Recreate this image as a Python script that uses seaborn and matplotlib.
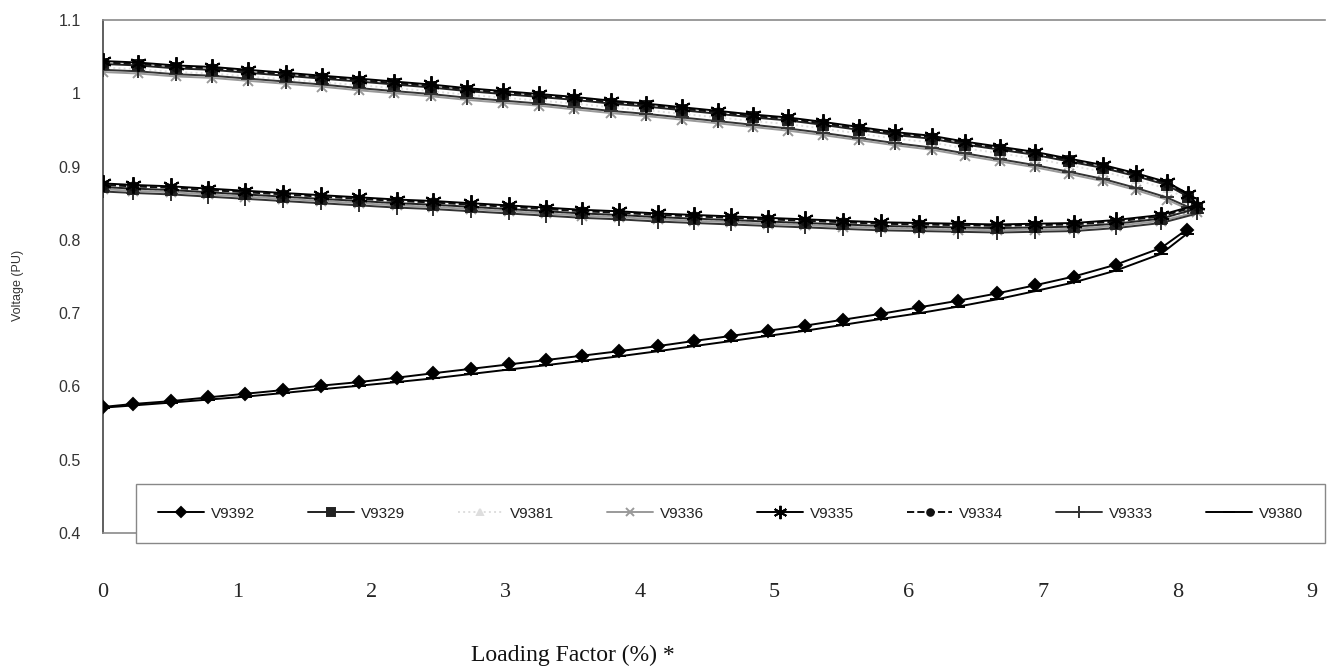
import numpy as np
import matplotlib.pyplot as plt
import seaborn as sns

# loading factor of the points, upper branch (0 -> nose) and lower branch (0 -> nose)
lf_upper = [0.00, 0.26, 0.54, 0.81, 1.08, 1.36, 1.63, 1.91, 2.17, 2.44,
            2.71, 2.98, 3.25, 3.51, 3.78, 4.04, 4.31, 4.58, 4.84, 5.10,
            5.36, 5.63, 5.90, 6.17, 6.42, 6.68, 6.94, 7.19, 7.45, 7.69,
            7.92, 8.08]
lf_nose = 8.15
lf_lower = [0.00, 0.22, 0.51, 0.78, 1.06, 1.34, 1.62, 1.91, 2.19, 2.46,
            2.74, 3.02, 3.30, 3.57, 3.84, 4.13, 4.40, 4.68, 4.95, 5.23,
            5.51, 5.79, 6.08, 6.37, 6.66, 6.94, 7.23, 7.54, 7.88]
lf_tail = 8.07

# voltages (PU), upper branch
v9335_up = [1.044, 1.042, 1.038, 1.036, 1.032, 1.028, 1.024, 1.020, 1.016, 1.012,
            1.007, 1.003, 0.999, 0.995, 0.990, 0.986, 0.981, 0.976, 0.971, 0.967,
            0.961, 0.954, 0.947, 0.942, 0.934, 0.927, 0.920, 0.911, 0.902, 0.891,
            0.879, 0.863]
v9334_up = [1.042, 1.040, 1.036, 1.034, 1.030, 1.026, 1.022, 1.018, 1.014, 1.010,
            1.005, 1.001, 0.997, 0.993, 0.988, 0.984, 0.979, 0.974, 0.969, 0.965,
            0.959, 0.952, 0.945, 0.940, 0.932, 0.925, 0.918, 0.909, 0.900, 0.889,
            0.877, 0.861]
v9329_up = [1.040, 1.038, 1.034, 1.032, 1.028, 1.024, 1.020, 1.016, 1.012, 1.008,
            1.003, 0.999, 0.995, 0.991, 0.986, 0.982, 0.977, 0.972, 0.967, 0.963,
            0.957, 0.950, 0.943, 0.938, 0.930, 0.923, 0.916, 0.907, 0.898, 0.887,
            0.875, 0.859]
v9381_up = [1.035, 1.033, 1.029, 1.027, 1.023, 1.019, 1.015, 1.011, 1.007, 1.003,
            0.998, 0.994, 0.990, 0.986, 0.981, 0.977, 0.972, 0.967, 0.962, 0.958,
            0.952, 0.945, 0.938, 0.933, 0.925, 0.918, 0.911, 0.902, 0.893, 0.882,
            0.870, 0.855]
v9333_up = [1.032, 1.030, 1.026, 1.024, 1.020, 1.016, 1.012, 1.007, 1.003, 0.999,
            0.994, 0.990, 0.986, 0.981, 0.976, 0.972, 0.967, 0.962, 0.957, 0.952,
            0.946, 0.939, 0.932, 0.926, 0.918, 0.910, 0.902, 0.893, 0.883, 0.871,
            0.858, 0.845]
v9336_up = [1.029, 1.027, 1.023, 1.021, 1.017, 1.013, 1.009, 1.004, 1.000, 0.996,
            0.991, 0.987, 0.983, 0.978, 0.973, 0.969, 0.964, 0.959, 0.954, 0.949,
            0.943, 0.936, 0.929, 0.923, 0.915, 0.907, 0.899, 0.890, 0.880, 0.868,
            0.855, 0.842]

# voltage at the nose
nose = {'V9335': 0.848, 'V9334': 0.846, 'V9329': 0.843,
        'V9381': 0.840, 'V9333': 0.836, 'V9336': 0.838}

# voltages (PU), lower branch
v9335_dn = [0.877, 0.875, 0.873, 0.870, 0.867, 0.864, 0.861, 0.858, 0.855, 0.853,
            0.850, 0.847, 0.844, 0.841, 0.839, 0.836, 0.834, 0.832, 0.830, 0.828,
            0.826, 0.824, 0.823, 0.822, 0.821, 0.822, 0.823, 0.827, 0.834]
v9334_dn = [0.875, 0.873, 0.871, 0.868, 0.865, 0.862, 0.859, 0.856, 0.853, 0.851,
            0.848, 0.845, 0.842, 0.839, 0.837, 0.834, 0.832, 0.830, 0.828, 0.826,
            0.824, 0.822, 0.821, 0.820, 0.819, 0.820, 0.821, 0.825, 0.832]
v9329_dn = [0.872, 0.870, 0.868, 0.865, 0.862, 0.859, 0.856, 0.853, 0.850, 0.848,
            0.845, 0.842, 0.839, 0.836, 0.834, 0.831, 0.829, 0.827, 0.825, 0.823,
            0.821, 0.819, 0.818, 0.817, 0.816, 0.817, 0.818, 0.822, 0.829]
v9381_dn = [0.870, 0.868, 0.866, 0.863, 0.860, 0.857, 0.854, 0.851, 0.848, 0.846,
            0.843, 0.840, 0.837, 0.834, 0.832, 0.829, 0.827, 0.825, 0.823, 0.821,
            0.819, 0.817, 0.816, 0.815, 0.814, 0.815, 0.816, 0.820, 0.827]
v9336_dn = [0.869, 0.867, 0.865, 0.862, 0.859, 0.856, 0.853, 0.850, 0.847, 0.845,
            0.842, 0.839, 0.836, 0.833, 0.831, 0.828, 0.826, 0.824, 0.822, 0.820,
            0.818, 0.816, 0.815, 0.814, 0.813, 0.814, 0.815, 0.819, 0.826]
v9333_dn = [0.866, 0.864, 0.862, 0.859, 0.856, 0.853, 0.850, 0.847, 0.844, 0.842,
            0.839, 0.836, 0.833, 0.830, 0.828, 0.825, 0.823, 0.821, 0.819, 0.817,
            0.815, 0.813, 0.812, 0.811, 0.810, 0.811, 0.812, 0.816, 0.823]

# the two low curves (lower branch only + end point)
v9392 = [0.572, 0.576, 0.580, 0.585, 0.590, 0.595, 0.601, 0.606, 0.612, 0.618,
         0.624, 0.630, 0.636, 0.642, 0.648, 0.655, 0.662, 0.669, 0.676, 0.683,
         0.691, 0.699, 0.708, 0.717, 0.727, 0.738, 0.750, 0.766, 0.789, 0.814]
v9380 = [0.571, 0.574, 0.578, 0.582, 0.586, 0.591, 0.596, 0.601, 0.606, 0.611,
         0.617, 0.623, 0.629, 0.635, 0.641, 0.648, 0.655, 0.662, 0.669, 0.676,
         0.684, 0.692, 0.700, 0.709, 0.719, 0.730, 0.742, 0.758, 0.781, 0.808]

series_names = ['V9392', 'V9329', 'V9381', 'V9336', 'V9335', 'V9334', 'V9333', 'V9380']
x_tick_labels = ['0', '1', '2', '3', '4', '5', '6', '7', '8', '9']
y_ticks = [0.4, 0.5, 0.6, 0.7, 0.8, 0.9, 1.0, 1.1]
y_tick_labels = ['0.4', '0.5', '0.6', '0.7', '0.8', '0.9', '1', '1.1']

nose_curves = {
    'V9335': (v9335_up, v9335_dn), 'V9334': (v9334_up, v9334_dn),
    'V9329': (v9329_up, v9329_dn), 'V9381': (v9381_up, v9381_dn),
    'V9336': (v9336_up, v9336_dn), 'V9333': (v9333_up, v9333_dn),
}

styles = {
    'V9392': dict(color='black', marker='D', ms=6, ls='-', z=8),
    'V9329': dict(color='#222222', marker='s', ms=6.5, ls='-', z=5),
    'V9381': dict(color='#dedede', marker='^', ms=5, ls=':', z=2),
    'V9336': dict(color='#9a9a9a', marker='x', ms=7, ls='-', z=3),
    'V9335': dict(color='black', marker=(6, 2, 0), ms=12, ls='-', z=7),
    'V9334': dict(color='#111111', marker='o', ms=6, ls='--', z=6),
    'V9333': dict(color='#333333', marker='+', ms=10, ls='-', z=4),
    'V9380': dict(color='black', marker='_', ms=10, ls='-', z=4),
}

sns.set_style('white')
plt.rcParams['font.family'] = ['Liberation Sans', 'DejaVu Sans']

fig = plt.figure(figsize=(13.27, 6.71), dpi=100)
ax = fig.add_axes([103 / 1327, 1 - 533 / 671, 1222 / 1327, 513 / 671])

for name in series_names:
    st = styles[name]
    if name in nose_curves:
        up, dn = nose_curves[name]
        xs = lf_upper + [lf_nose] + lf_lower[::-1]
        ys = up + [nose[name]] + dn[::-1]
    else:
        xs = lf_lower + [lf_tail]
        ys = v9392 if name == 'V9392' else v9380
    sns.lineplot(x=xs, y=ys, sort=False, estimator=None, ax=ax, label=name,
                 color=st['color'], linestyle=st['ls'], linewidth=1.4,
                 marker=st['marker'], markersize=st['ms'], markeredgewidth=1.4,
                 markerfacecolor=st['color'], markeredgecolor=st['color'],
                 zorder=st['z'])

ax.set_xlim(0, 9.1)
ax.set_ylim(0.4, 1.1)
ax.set_yticks(y_ticks)
ax.set_yticklabels(y_tick_labels)
ax.set_xticks(range(len(x_tick_labels)))
ax.set_xticklabels(x_tick_labels, fontfamily='Liberation Serif', fontsize=16)
ax.tick_params(axis='x', length=0, pad=36)
ax.tick_params(axis='y', direction='inout', length=14, width=1, color='#444444',
               labelsize=11.5, labelcolor='#333333', pad=9)
ax.set_xlabel('')
ax.set_ylabel('')

for side in ['top', 'bottom']:
    ax.spines[side].set_color('#8a8a8a')
    ax.spines[side].set_linewidth(1.2)
ax.spines['left'].set_color('#444444')
ax.spines['left'].set_linewidth(1.2)
ax.spines['right'].set_visible(False)

handles, labels = ax.get_legend_handles_labels()
order = [labels.index(n) for n in series_names]
leg = ax.legend([handles[i] for i in order], [labels[i] for i in order],
                loc='center', ncol=8, mode='expand',
                bbox_to_anchor=(136 / 1327, 1 - 543 / 671, 1189 / 1327, 59 / 671),
                bbox_transform=fig.transFigure, borderaxespad=0, borderpad=1.45,
                frameon=True, fancybox=False, framealpha=1, edgecolor='#888888',
                handlelength=3.0, handletextpad=0.45, fontsize=11, markerscale=0.8)
leg.set_zorder(20)
for t in leg.get_texts():
    t.set_color('#222222')

fig.text(18 / 1327, 1 - 285 / 671, 'Voltage (PU)', rotation=90, ha='center',
         va='center', fontsize=9, color='#333333')
fig.text(573 / 1327, 1 - 655 / 671, 'Loading Factor (%) *', ha='center', va='center',
         fontsize=17, fontfamily='Liberation Serif', color='#111111')

fig.savefig('out.png', dpi=100)
